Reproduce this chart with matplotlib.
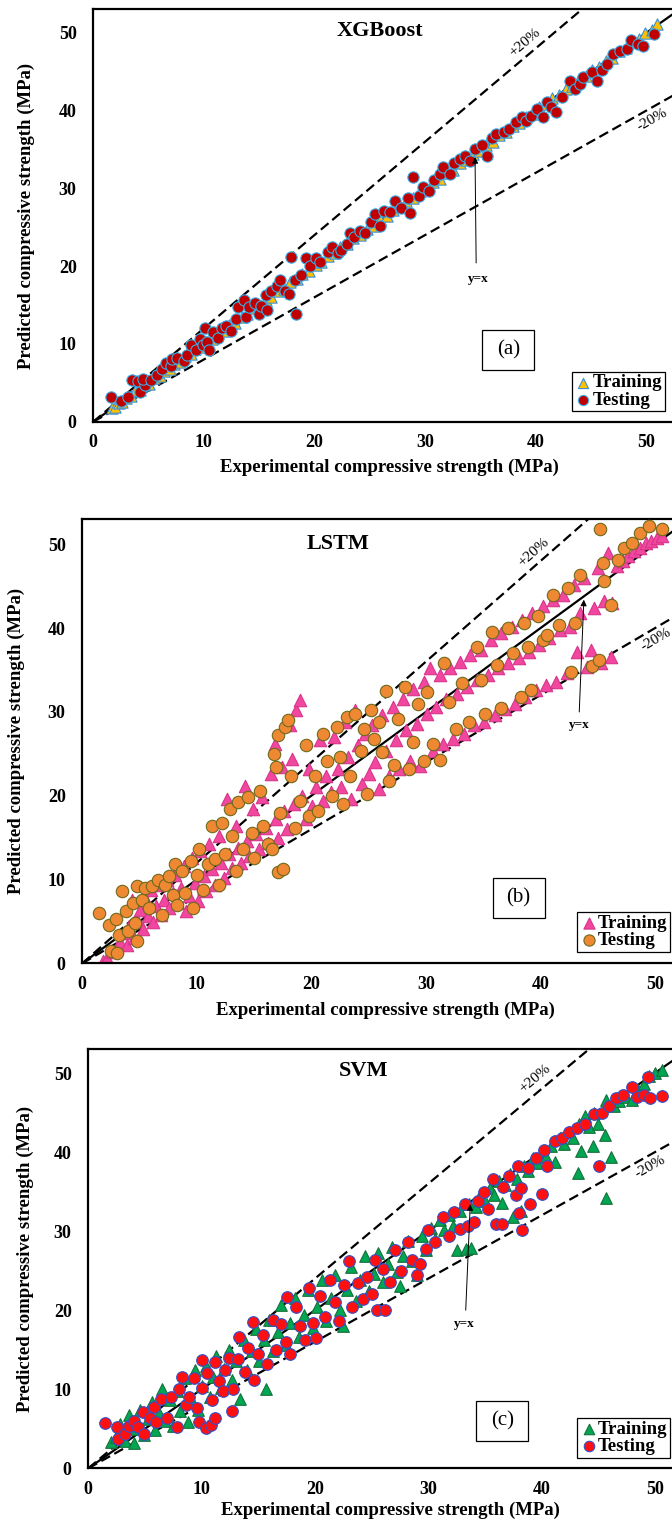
import matplotlib
matplotlib.use("Agg")
import numpy as np
import matplotlib.pyplot as plt
from matplotlib.patches import Rectangle

plt.rcParams['font.family'] = ['Liberation Serif', 'DejaVu Serif']
plt.rcParams['font.weight'] = 'bold'

# ---------------------------------------------------------------- data
# (a) XGBoost
xgb_train_x = [1.7, 2.0, 2.3, 2.6, 3.0, 3.4, 3.8, 4.2, 4.6, 5.0, 5.5, 6.0, 6.4, 6.9, 7.3, 7.8, 8.3, 8.8, 9.2, 9.7,
               10.2, 10.7, 11.2, 11.8, 12.3, 12.8, 13.4, 13.9, 14.5, 15.0, 15.6, 16.1, 16.7, 17.2, 17.8, 18.4, 18.9,
               19.5, 20.1, 20.6, 21.2, 21.8, 22.3, 22.9, 23.5, 24.1, 24.7, 25.3, 25.9, 26.5, 27.1, 27.7, 28.3, 28.9,
               29.5, 30.1, 30.7, 31.3, 31.9, 32.5, 33.1, 33.7, 34.3, 34.9, 35.5, 36.1, 36.7, 37.3, 37.9, 38.5, 39.1,
               39.7, 40.3, 40.9, 41.5, 42.1, 42.7, 43.3, 43.9, 44.5, 45.1, 45.7, 46.3, 46.9, 47.5, 48.1, 48.7, 49.3,
               49.9, 50.5, 50.9]
xgb_train_y = [1.8, 1.9, 2.4, 2.5, 3.1, 3.3, 3.9, 4.1, 4.7, 4.9, 5.6, 5.9, 6.5, 6.8, 7.4, 7.7, 8.4, 8.7, 9.3, 9.6,
               10.3, 10.6, 11.3, 11.7, 12.4, 12.7, 13.5, 13.8, 14.6, 14.9, 15.7, 16.0, 16.8, 17.1, 17.9, 18.3, 19.0,
               19.4, 20.2, 20.5, 21.3, 21.7, 22.4, 22.8, 23.6, 24.0, 24.8, 25.2, 26.0, 26.4, 27.2, 27.6, 28.4, 28.8,
               29.6, 30.0, 30.8, 31.2, 32.0, 32.4, 33.2, 33.6, 34.4, 34.8, 35.6, 36.0, 36.8, 37.2, 38.0, 38.4, 39.2,
               39.6, 40.4, 40.8, 41.6, 42.0, 42.8, 43.2, 44.0, 44.4, 45.2, 45.6, 46.4, 46.8, 47.6, 48.0, 48.8, 49.2,
               50.0, 50.4, 51.1]
xgb_test_x = [1.6, 2.5, 3.1, 3.5, 4.0, 4.2, 4.7, 4.5, 5.2, 5.8, 6.2, 6.6, 7.0, 7.1, 7.6, 8.2, 8.5, 8.8, 9.3, 9.6,
              9.9, 10.1, 10.3, 10.5, 10.8, 11.3, 11.6, 12.0, 12.4, 12.9, 13.1, 13.6, 13.8, 14.1, 14.6, 15.0, 15.2,
              15.6, 15.7, 16.1, 16.6, 16.9, 17.3, 17.7, 17.9, 18.2, 18.3, 18.8, 19.2, 19.6, 20.1, 20.5, 21.2, 21.6,
              22.1, 22.4, 22.9, 23.2, 23.6, 24.1, 24.6, 25.1, 25.5, 25.9, 26.3, 26.8, 27.3, 27.8, 28.4, 28.6, 28.9,
              29.4, 29.8, 30.3, 30.8, 31.3, 31.6, 32.2, 32.6, 33.1, 33.6, 34.0, 34.5, 35.1, 35.6, 36.0, 36.4, 37.1,
              37.6, 38.2, 38.7, 39.1, 39.6, 40.1, 40.6, 41.0, 41.4, 41.8, 42.4, 43.1, 43.5, 44.0, 44.3, 45.1, 45.5,
              46.0, 46.4, 47.0, 47.6, 48.2, 48.6, 49.2, 49.7, 50.7]
xgb_test_y = [3.2, 2.6, 3.2, 5.4, 5.2, 3.8, 4.7, 5.5, 5.4, 6.0, 6.8, 7.5, 7.1, 8.0, 8.2, 7.8, 8.6, 9.9, 9.2, 10.6,
              9.8, 12.0, 10.2, 9.2, 11.5, 10.8, 12.1, 12.3, 11.6, 13.2, 14.7, 15.7, 13.5, 14.8, 15.3, 13.9, 14.9,
              16.3, 14.4, 16.8, 17.5, 18.2, 16.8, 16.4, 21.2, 18.2, 13.9, 18.9, 21.1, 20.0, 21.0, 20.5, 21.8, 22.5,
              21.7, 22.1, 22.8, 24.2, 23.8, 24.5, 24.3, 25.7, 26.7, 25.1, 27.1, 26.9, 28.4, 27.5, 28.7, 26.8, 31.4,
              29.0, 30.1, 29.6, 31.0, 31.8, 32.7, 31.8, 33.2, 33.8, 34.2, 33.5, 35.1, 35.6, 34.2, 36.5, 37.0, 37.2,
              37.6, 38.5, 39.1, 38.6, 39.3, 40.2, 39.1, 41.1, 40.5, 39.8, 41.7, 43.8, 42.7, 43.4, 44.3, 45.0, 43.8,
              45.2, 46.0, 47.2, 47.6, 47.9, 49.0, 48.6, 48.3, 49.8]

# (b) LSTM
lstm_train_x = [1.8, 2.2, 2.6, 3.0, 3.3, 3.6, 3.9, 4.1, 4.3, 4.5, 4.8, 5.0, 5.3, 5.5, 5.7, 6.0, 6.2, 6.4, 6.7, 6.9,
                7.1, 7.4, 7.6, 7.9, 8.1, 8.4, 8.6, 8.9, 9.1, 9.3, 9.6, 9.8, 10.1, 10.3, 10.6, 10.8, 11.1, 11.3, 11.6,
                11.9, 12.1, 12.4, 12.6, 12.8, 13.1, 13.4, 13.6, 13.9, 14.2, 14.4, 14.6, 14.9, 15.2, 15.4, 15.7, 16.0,
                16.2, 16.5, 16.8, 16.9, 17.1, 17.4, 17.6, 17.9, 18.1, 18.3, 18.5, 18.7, 19.0, 19.2, 19.5, 19.8, 20.1,
                20.4, 20.8, 21.0, 21.3, 21.7, 22.0, 22.3, 22.6, 22.9, 23.2, 23.5, 23.8, 24.1, 24.4, 24.7, 25.0, 25.3,
                25.6, 25.9, 26.2, 26.5, 26.8, 27.1, 27.4, 27.7, 28.0, 28.3, 28.6, 28.9, 29.2, 29.5, 29.8, 30.1, 30.4,
                30.6, 30.9, 31.2, 31.5, 31.8, 32.1, 32.4, 32.7, 33.0, 33.3, 33.6, 33.9, 34.2, 34.5, 34.8, 35.1, 35.4,
                35.7, 36.0, 36.3, 36.6, 36.9, 37.2, 37.5, 37.8, 38.1, 38.4, 38.7, 39.0, 39.3, 39.6, 39.9, 40.2, 40.5,
                40.8, 41.1, 41.4, 41.7, 42.0, 42.3, 42.6, 42.9, 43.2, 43.5, 43.8, 44.1, 44.4, 44.7, 45.0, 45.3, 45.6,
                45.9, 46.2, 46.3, 46.7, 47.2, 47.7, 48.2, 48.7, 49.2, 49.7, 50.2, 50.6]
lstm_train_y = [0.3, 0.6, 1.4, 2.0, 2.6, 3.6, 2.2, 4.4, 7.6, 3.0, 5.2, 6.4, 4.1, 7.8, 5.7, 8.8, 4.9, 6.8, 9.4, 5.8,
                7.6, 10.0, 6.6, 8.4, 10.6, 7.2, 9.0, 11.6, 6.2, 8.0, 12.6, 9.6, 7.4, 13.4, 10.4, 8.6, 14.2, 11.2, 9.4,
                15.2, 12.0, 10.2, 19.6, 13.0, 11.4, 16.4, 13.8, 12.0, 21.2, 14.6, 12.8, 18.4, 15.4, 13.6, 19.8, 16.2,
                14.4, 22.6, 26.2, 17.2, 15.0, 23.4, 18.2, 16.0, 28.4, 24.4, 19.0, 30.2, 31.4, 20.0, 17.2, 23.2, 18.8,
                21.0, 26.6, 19.4, 22.4, 20.4, 27.0, 23.2, 21.0, 28.8, 24.6, 19.6, 30.2, 26.0, 21.4, 27.4, 22.6, 28.4,
                24.0, 20.8, 29.6, 25.4, 22.4, 30.6, 26.6, 23.2, 31.6, 27.8, 24.2, 32.8, 28.6, 23.6, 33.6, 29.8, 35.2,
                25.4, 30.6, 34.4, 26.2, 31.6, 35.2, 26.8, 32.2, 36.0, 27.4, 33.0, 36.8, 28.4, 33.8, 37.4, 28.8, 34.4,
                38.6, 29.6, 35.2, 39.4, 30.4, 35.8, 40.2, 31.0, 36.4, 41.0, 31.8, 37.2, 41.8, 32.6, 38.0, 42.6, 33.2,
                38.8, 43.4, 33.6, 39.8, 44.0, 34.6, 40.2, 45.2, 37.2, 41.8, 46.0, 35.4, 37.4, 42.4, 47.2, 35.8, 43.2,
                49.0, 36.6, 43.0, 47.4, 48.0, 48.6, 49.2, 49.6, 50.2, 50.4, 50.8, 51.0]
lstm_test_x = [1.5, 2.3, 2.5, 2.9, 3.0, 3.2, 3.5, 3.8, 4.0, 4.4, 4.6, 4.8, 4.8, 5.2, 5.5, 5.8, 6.1, 6.6, 7.0, 7.2,
               7.6, 7.9, 8.1, 8.3, 8.7, 9.0, 9.5, 9.7, 10.0, 10.2, 10.5, 11.0, 11.3, 11.6, 11.9, 12.2, 12.5, 12.9,
               13.1, 13.4, 13.6, 14.0, 14.5, 14.8, 15.0, 15.5, 15.8, 16.2, 16.7, 16.9, 16.6, 17.1, 17.1, 17.5, 17.3,
               17.7, 18.0, 18.2, 18.6, 19.0, 19.5, 19.8, 20.3, 20.6, 21.0, 21.4, 21.8, 22.2, 22.5, 22.8, 23.1, 23.4,
               23.8, 24.3, 24.6, 24.9, 25.2, 25.5, 25.9, 26.2, 26.5, 26.8, 27.2, 27.6, 28.2, 28.5, 28.9, 29.3, 29.8,
               30.1, 30.6, 31.2, 31.6, 32.0, 32.6, 33.2, 33.8, 34.5, 34.8, 35.2, 35.8, 36.2, 36.6, 37.2, 37.6, 38.3,
               38.6, 38.9, 39.2, 39.8, 40.2, 40.6, 41.1, 41.6, 42.4, 42.7, 43.0, 43.5, 44.5, 45.1, 45.2, 45.5, 45.6,
               46.2, 46.8, 47.3, 48.0, 48.7, 49.5, 50.6]
lstm_test_y = [6.0, 4.6, 1.5, 5.3, 1.2, 3.4, 8.6, 6.2, 3.8, 7.2, 4.8, 9.2, 2.7, 7.6, 9.0, 6.6, 9.2, 10.0, 5.8, 9.4,
               10.4, 8.2, 11.8, 7.0, 11.0, 8.4, 12.2, 6.6, 10.6, 13.6, 8.8, 11.8, 16.4, 12.4, 9.4, 16.8, 13.0, 18.4,
               15.2, 11.0, 19.2, 13.6, 19.8, 15.6, 12.6, 20.6, 16.4, 14.2, 25.0, 23.4, 13.6, 27.2, 10.9, 11.3, 18.0,
               28.2, 29.0, 22.4, 16.2, 19.4, 26.0, 17.6, 22.4, 18.2, 27.4, 24.2, 20.0, 28.2, 24.6, 19.0, 29.4, 22.4,
               29.8, 25.4, 28.0, 20.2, 30.2, 26.8, 28.8, 25.2, 32.5, 21.8, 23.7, 29.2, 33.0, 23.2, 26.4, 31.0, 24.2,
               32.4, 26.2, 24.3, 35.9, 31.2, 28.0, 33.4, 28.8, 37.8, 33.8, 29.8, 39.6, 35.6, 30.5, 40.0, 37.0, 31.8,
               40.6, 37.8, 32.6, 41.4, 38.6, 39.2, 44.0, 40.4, 44.8, 34.8, 40.6, 46.4, 35.5, 36.2, 51.8, 47.8, 45.6,
               42.8, 48.2, 49.6, 50.2, 51.4, 52.2, 51.8]

# (c) SVM
svm_train_x = [2.0, 2.4, 2.8, 3.2, 3.6, 4.0, 4.2, 4.6, 4.9, 5.3, 5.6, 5.9, 6.2, 6.5, 6.8, 7.2, 7.5, 7.8, 8.1, 8.5,
               8.8, 9.1, 9.4, 9.7, 10.0, 10.4, 10.7, 11.0, 11.3, 11.7, 12.0, 12.4, 12.7, 13.0, 13.4, 13.7, 14.0, 14.4,
               14.8, 15.1, 15.7, 15.5, 15.9, 16.3, 16.7, 17.0, 17.4, 17.8, 18.2, 18.6, 19.0, 19.4, 19.8, 20.2, 20.6,
               21.0, 21.4, 21.8, 22.2, 22.5, 22.8, 23.2, 23.6, 24.0, 24.4, 24.8, 25.2, 25.6, 26.0, 26.4, 26.8, 27.2,
               27.5, 27.8, 28.2, 28.6, 29.0, 29.4, 29.8, 30.2, 30.6, 31.0, 31.4, 31.8, 32.2, 32.5, 32.8, 33.3, 33.6,
               33.8, 34.2, 34.6, 35.0, 35.4, 35.8, 36.2, 36.5, 36.8, 37.2, 37.5, 37.8, 38.2, 38.4, 38.8, 39.2, 39.6,
               40.0, 40.4, 40.8, 41.2, 41.6, 42.0, 42.4, 42.8, 43.2, 43.5, 43.3, 43.8, 44.2, 44.5, 44.6, 45.0, 45.6,
               45.7, 45.7, 46.1, 46.4, 46.8, 47.4, 48.0, 48.5, 49.0, 49.5, 50.0, 50.6]
svm_train_y = [3.3, 4.0, 5.6, 3.4, 6.8, 3.2, 5.0, 7.4, 4.2, 6.2, 8.4, 4.8, 7.0, 10.0, 6.0, 8.6, 5.4, 9.8, 7.2, 11.4,
               5.8, 8.8, 12.4, 7.4, 10.4, 13.0, 9.0, 11.6, 14.2, 10.2, 12.6, 15.0, 11.2, 13.6, 8.8, 16.2, 12.4, 14.8,
               17.6, 13.6, 10.0, 16.2, 18.8, 14.8, 17.2, 20.6, 15.6, 18.4, 21.6, 16.6, 19.4, 22.6, 17.8, 20.4, 23.8,
               18.6, 21.6, 24.4, 20.0, 18.0, 22.6, 25.4, 21.2, 23.8, 26.8, 22.4, 24.6, 27.2, 23.6, 25.8, 28.0, 24.8,
               23.0, 26.8, 28.8, 26.2, 24.5, 29.4, 27.6, 30.4, 29.0, 31.4, 30.2, 32.0, 30.6, 27.6, 32.6, 27.8, 33.4,
               27.9, 33.0, 34.6, 33.8, 35.4, 34.6, 36.4, 33.5, 35.8, 37.2, 31.8, 36.6, 32.6, 38.2, 37.6, 39.2, 38.6,
               40.0, 39.4, 40.8, 38.8, 41.8, 41.0, 42.6, 41.8, 37.3, 40.1, 43.6, 44.6, 43.2, 40.8, 45.0, 43.6, 42.2,
               34.2, 46.6, 39.4, 45.8, 46.4, 47.0, 46.6, 47.8, 48.6, 49.6, 50.0, 50.4]
svm_test_x = [1.5, 2.5, 2.6, 3.2, 3.6, 4.0, 4.4, 4.8, 4.9, 5.4, 5.8, 6.0, 6.4, 6.9, 7.3, 7.8, 8.0, 8.3, 8.6, 8.9,
              9.3, 9.6, 9.8, 10.0, 10.0, 10.4, 10.5, 10.8, 10.9, 11.2, 11.2, 11.5, 11.9, 12.1, 12.4, 12.7, 12.8, 13.2,
              13.3, 13.8, 14.1, 14.5, 14.6, 15.0, 15.4, 15.8, 16.3, 16.6, 17.0, 17.5, 17.4, 17.8, 18.3, 18.7, 19.1,
              19.5, 19.8, 20.1, 20.4, 20.9, 21.3, 21.8, 22.1, 22.6, 23.0, 23.3, 23.8, 24.2, 24.6, 25.0, 25.3, 25.5,
              26.2, 26.0, 26.6, 27.1, 27.6, 28.2, 28.6, 29.0, 29.3, 29.8, 30.0, 30.6, 31.3, 31.8, 32.3, 32.8, 33.2,
              33.5, 34.0, 34.4, 34.9, 35.3, 35.7, 36.0, 36.5, 36.6, 37.1, 37.7, 37.9, 38.0, 38.2, 38.3, 38.8, 39.0,
              39.5, 40.0, 40.2, 40.5, 41.2, 41.8, 42.4, 43.1, 43.8, 44.6, 45.1, 45.3, 45.9, 46.6, 47.2, 48.0, 48.4,
              49.0, 49.4, 49.6, 50.6]
svm_test_y = [5.7, 5.2, 3.7, 4.4, 5.4, 6.0, 5.2, 7.1, 4.4, 6.4, 7.8, 5.8, 8.8, 6.4, 9.0, 5.2, 10.0, 11.6, 8.0, 9.0,
              11.4, 7.6, 5.8, 13.7, 10.2, 5.1, 12.0, 5.5, 8.6, 6.4, 13.5, 11.0, 9.8, 12.4, 14.0, 7.2, 10.0, 13.8,
              16.6, 12.2, 15.2, 18.5, 11.2, 14.4, 16.8, 13.2, 18.8, 15.0, 18.2, 21.7, 16.0, 14.4, 20.4, 18.0, 16.2,
              22.8, 18.4, 16.5, 21.8, 19.2, 23.8, 21.0, 18.6, 23.2, 26.2, 20.4, 23.4, 21.4, 24.2, 22.0, 26.4, 20.0,
              20.0, 25.2, 23.6, 27.6, 25.0, 28.6, 26.4, 24.5, 25.8, 27.8, 30.2, 28.6, 31.8, 29.4, 32.4, 30.3, 33.4,
              30.6, 31.1, 33.8, 35.0, 32.8, 36.6, 30.9, 30.9, 35.6, 37.0, 34.6, 38.2, 32.3, 35.4, 30.1, 38.0, 33.4,
              39.2, 34.7, 40.2, 38.2, 41.4, 41.8, 42.6, 43.0, 43.6, 44.8, 38.2, 45.0, 45.8, 46.8, 47.2, 48.2, 47.0,
              47.2, 49.5, 46.9, 47.1]

titles = ["XGBoost", "LSTM", "SVM"]
tags = ["(a)", "(b)", "(c)"]
ticks = [0, 10, 20, 30, 40, 50]

# ---------------------------------------------------------------- layout (pixels in a 672x1522 image)
W, H = 672, 1522
# left, top, bottom (pixel), xmax of the visible range
boxes = [(93.3, 9.3, 421.7, 52.3), (82.3, 519.3, 963.3, 51.5), (88.3, 1049.3, 1468.3, 51.5)]
xlabel_top = [459, 1002, 1502]      # pixel row of the top of the x label
ylabel_right = [35, 25, 34]         # pixel column of the right side of the y label
xlabel_cx = [389, 385, 390]

styles = [
    dict(tr_fc='#FFC000', tr_ec='#3C8FD8', te_fc='#C00000', te_ec='#35AEE8', s=66),
    dict(tr_fc='#F2479F', tr_ec='#D8338A', te_fc='#EE8833', te_ec='#6E6A1C', s=80),
    dict(tr_fc='#00A651', tr_ec='#17703C', te_fc='#FF1010', te_ec='#3050C8', s=70),
]
tag_pos = [(0.717, 0.175), (0.740, 0.147), (0.709, 0.113)]
leg_right = [0.988, 0.997, 0.997]
arrow_pts = [((34.6, 20.4), (34.5, 34.0), (34.8, 18.3)),
             ((43.4, 30.0), (43.8, 43.4), (43.4, 28.4)),
             ((33.3, 20.0), (33.7, 33.4), (33.2, 18.3))]
plus_pos = [(39.0, 48.7), (39.4, 49.0), (39.4, 49.3)]
minus_pos = [(50.5, 38.8), (50.1, 38.6), (49.6, 38.1)]
title_pos = [(25.9, 50.2), (22.3, 50.0), (24.3, 50.3)]

data = [(xgb_train_x, xgb_train_y, xgb_test_x, xgb_test_y),
        (lstm_train_x, lstm_train_y, lstm_test_x, lstm_test_y),
        (svm_train_x, svm_train_y, svm_test_x, svm_test_y)]

fig = plt.figure(figsize=(W / 100, H / 100), dpi=100)

for i in range(3):
    left, top, bottom, xmax = boxes[i]
    aw = W - left
    ah = bottom - top
    ax = fig.add_axes([left / W, 1 - bottom / H, aw / W, ah / H])
    ax.set_xlim(0, xmax)
    ax.set_ylim(0, 53)
    st = styles[i]
    trx, try_, tex, tey = data[i]

    line = np.array([0, 60])
    ax.plot(line, line, color='black', lw=1.6, zorder=1)
    ax.plot(line, 1.2 * line, color='black', lw=1.6, ls=(0, (4.5, 2.2)), zorder=1)
    ax.plot(line, 0.8 * line, color='black', lw=1.6, ls=(0, (4.5, 2.2)), zorder=1)

    ax.scatter(trx, try_, marker='^', s=st['s'], c=st['tr_fc'], edgecolors=st['tr_ec'],
               linewidths=0.8, zorder=2, label='Training')
    ax.scatter(tex, tey, marker='o', s=st['s'], c=st['te_fc'], edgecolors=st['te_ec'],
               linewidths=0.8, zorder=3, label='Testing')

    for sp in ['left', 'top', 'bottom']:
        ax.spines[sp].set_linewidth(1.6)
    ax.spines['right'].set_visible(False)
    ax.set_xticks(ticks)
    ax.set_yticks(ticks)
    ax.tick_params(axis='both', length=0, labelsize=13)
    ax.tick_params(axis='x', pad=9)
    ax.tick_params(axis='y', pad=12)

    ax.set_xlabel("Experimental compressive strength (MPa)", fontsize=13.5, fontweight='bold')
    ax.set_ylabel("Predicted compressive strength (MPa)", fontsize=13.5, fontweight='bold')
    ax.xaxis.set_label_coords((xlabel_cx[i] - left) / aw, -(xlabel_top[i] - bottom) / ah)
    ax.yaxis.set_label_coords((ylabel_right[i] - left) / aw, 0.5)

    ax.text(title_pos[i][0], title_pos[i][1], titles[i], fontsize=16, fontweight='bold',
            ha='center', va='center')

    # angle of the +/-20% lines on screen
    p0 = ax.transData.transform((0, 0))
    p1 = ax.transData.transform((10, 12))
    p2 = ax.transData.transform((10, 8))
    a_plus = np.degrees(np.arctan2(p1[1] - p0[1], p1[0] - p0[0]))
    a_minus = np.degrees(np.arctan2(p2[1] - p0[1], p2[0] - p0[0]))
    ax.text(plus_pos[i][0], plus_pos[i][1], "+20%", fontsize=11, fontweight='normal',
            rotation=a_plus, ha='center', va='center', rotation_mode='anchor')
    ax.text(minus_pos[i][0], minus_pos[i][1], "-20%", fontsize=11, fontweight='normal',
            rotation=a_minus, ha='center', va='center', rotation_mode='anchor')

    start, tip, lab = arrow_pts[i]
    ax.annotate('', xy=tip, xytext=start,
                arrowprops=dict(arrowstyle='-|>', color='black', lw=0.7, mutation_scale=9,
                                shrinkA=0, shrinkB=0), zorder=4)
    ax.text(lab[0], lab[1], "y=x", fontsize=9.5, fontweight='bold', ha='center', va='center')

    # label box
    bw, bh = 52 / aw, 40 / ah
    cx, cy = tag_pos[i]
    ax.add_patch(Rectangle((cx - bw / 2, cy - bh / 2), bw, bh, transform=ax.transAxes,
                           fc='white', ec='black', lw=0.9, zorder=5))
    ax.text(cx, cy, tags[i], transform=ax.transAxes, fontsize=15, fontweight='normal',
            ha='center', va='center', zorder=6)

    leg = ax.legend(loc='lower right', bbox_to_anchor=(leg_right[i], 0.025), fontsize=13.5,
                    frameon=True, fancybox=False, framealpha=1, edgecolor='black',
                    borderpad=0.15, labelspacing=0.0, handletextpad=0.05, handlelength=0.9,
                    borderaxespad=0, markerscale=0.9)
    leg.get_frame().set_linewidth(0.9)
    leg.set_zorder(6)

fig.savefig("out.png", dpi=100)
